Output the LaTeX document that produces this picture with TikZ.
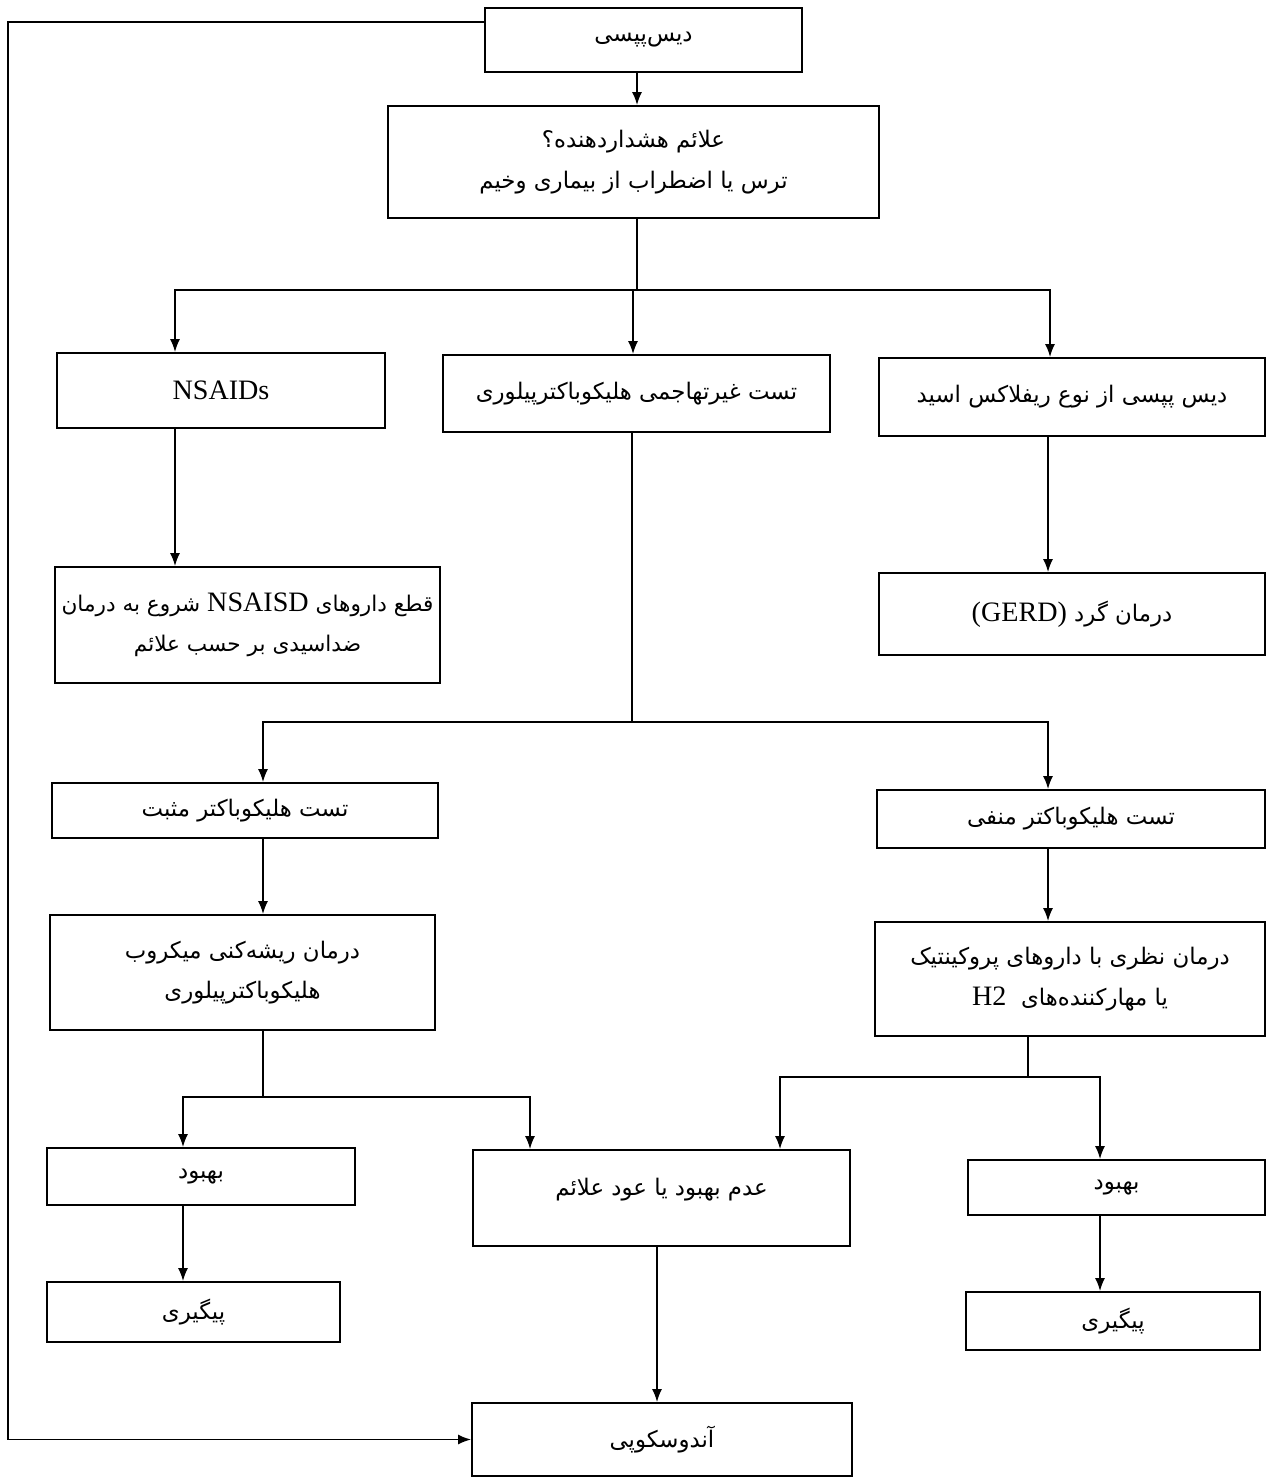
\documentclass[tikz,border=0pt]{standalone}
\usepackage{fontspec}
\setmainfont{Liberation Serif}
\newfontfamily\farsi[Script=Arabic]{DejaVu Sans}
\TeXXeTstate=1
\usetikzlibrary{arrows.meta}

\newcommand{\fa}[1]{{\farsi\beginR #1\endR}}
\newcommand{\lat}[1]{{\rmfamily\fontsize{16}{23}\selectfont\beginL #1\endL}}

\tikzset{
  box/.style={draw, line width=1pt, inner sep=0pt, align=center,
    font=\fontsize{13}{23}\selectfont},
  boxsize/.style 2 args={minimum width=#1*0.02cm, minimum height=#2*0.02cm},
  link/.style={line width=1pt},
  arr/.style={link, -{Latex[length=2.6mm,width=2mm]}},
}

\begin{document}
\begin{tikzpicture}[x=0.02cm, y=-0.02cm]
\useasboundingbox[fill=white] (0,0) rectangle (1270,1479);

% boxes
\node[box, boxsize={317}{64}]  (start)  at (643.5,40)   {\fa{دیس^^^^200cپپسی}};
\node[box, boxsize={491}{112}] (alarm)  at (633.5,162)  {\fa{علائم هشداردهنده؟}\\\fa{ترس یا اضطراب از بیماری وخیم}};
\node[box, boxsize={328}{75}]  (nsaid)  at (221,390.5)  {\lat{NSAIDs}};
\node[box, boxsize={387}{77}]  (hptest) at (636.5,393.5) {\fa{تست غیرتهاجمی هلیکوباکترپیلوری}};
\node[box, boxsize={386}{78}]  (reflux) at (1072,397)   {\fa{دیس پپسی از نوع ریفلاکس اسید}};
\node[box, boxsize={385}{116}, font=\fontsize{12.3}{23}\selectfont] (stop) at (247.5,625)
  {\fa{قطع داروهای \lat{NSAISD} شروع به درمان}\\\fa{ضداسیدی بر حسب علائم}};
\node[box, boxsize={386}{82}]  (gerd)   at (1072,614)   {\fa{درمان گرد \lat{(GERD)}}};
\node[box, boxsize={386}{55}]  (hppos)  at (245,810.5)  {\fa{تست هلیکوباکتر مثبت}};
\node[box, boxsize={388}{58}]  (hpneg)  at (1071,819)   {\fa{تست هلیکوباکتر منفی}};
\node[box, boxsize={385}{115}] (erad)   at (242.5,972.5) {\fa{درمان ریشه^^^^200cکنی میکروب}\\\fa{هلیکوباکترپیلوری}};
\node[box, boxsize={390}{114}] (empir)  at (1070,979)   {\fa{درمان نظری با داروهای پروکینتیک}\\\fa{یا مهارکننده^^^^200cهای\ \ \lat{H2}}};
\node[box, boxsize={308}{57}]  (okl)    at (201,1176.5) {\fa{بهبود}};
\node[box, boxsize={297}{55}]  (okr)    at (1116.5,1187.5) {\fa{بهبود}};
\node[box, boxsize={377}{96}, text depth=0.45cm] (fail) at (661.5,1198) {\fa{عدم بهبود یا عود علائم}};
\node[box, boxsize={293}{60}]  (fupl)   at (193.5,1312) {\fa{پیگیری}};
\node[box, boxsize={294}{58}]  (fupr)   at (1113,1321)  {\fa{پیگیری}};
\node[box, boxsize={380}{73}]  (endo)   at (662,1439.5) {\fa{آندوسکوپی}};

% columns and junctions
\coordinate (xa) at (175,0);
\coordinate (xb) at (633,0);
\coordinate (xc) at (1050,0);
\coordinate (xd) at (263,0);
\coordinate (xe) at (1048,0);
\coordinate (xf) at (183,0);
\coordinate (xg) at (530,0);
\coordinate (xh) at (780,0);
\coordinate (xi) at (1100,0);
\coordinate (xj) at (657,0);
\coordinate (j1) at (637,290);
\coordinate (j2) at (632,722);
\coordinate (j3) at (263,1097);
\coordinate (j4) at (1028,1077);
\coordinate (lp) at (8,22);

% connectors
\draw[arr] (start.south -| j1) -- (alarm.north -| j1);
\draw[link] (alarm.south -| j1) -- (j1);
\draw[arr] (j1) -| (nsaid.north -| xa);
\draw[arr] (j1) -| (reflux.north -| xc);
\draw[arr] (j1 -| xb) -- (hptest.north -| xb);
\draw[arr] (nsaid.south -| xa) -- (stop.north -| xa);
\draw[arr] (reflux.south -| xe) -- (gerd.north -| xe);

\draw[link] (hptest.south -| j2) -- (j2);
\draw[arr] (j2) -| (hppos.north -| xd);
\draw[arr] (j2) -| (hpneg.north -| xe);
\draw[arr] (hppos.south -| xd) -- (erad.north -| xd);
\draw[arr] (hpneg.south -| xe) -- (empir.north -| xe);

\draw[link] (erad.south -| j3) -- (j3);
\draw[arr] (j3) -| (okl.north -| xf);
\draw[arr] (j3) -| (fail.north -| xg);
\draw[link] (empir.south -| j4) -- (j4);
\draw[arr] (j4) -| (fail.north -| xh);
\draw[arr] (j4) -| (okr.north -| xi);

\draw[arr] (okl.south -| xf) -- (fupl.north -| xf);
\draw[arr] (okr.south -| xi) -- (fupr.north -| xi);
\draw[arr] (fail.south -| xj) -- (endo.north -| xj);

% return line
\draw[arr] (start.west |- lp) -- (lp) |- (endo.west);
\end{tikzpicture}
\end{document}
